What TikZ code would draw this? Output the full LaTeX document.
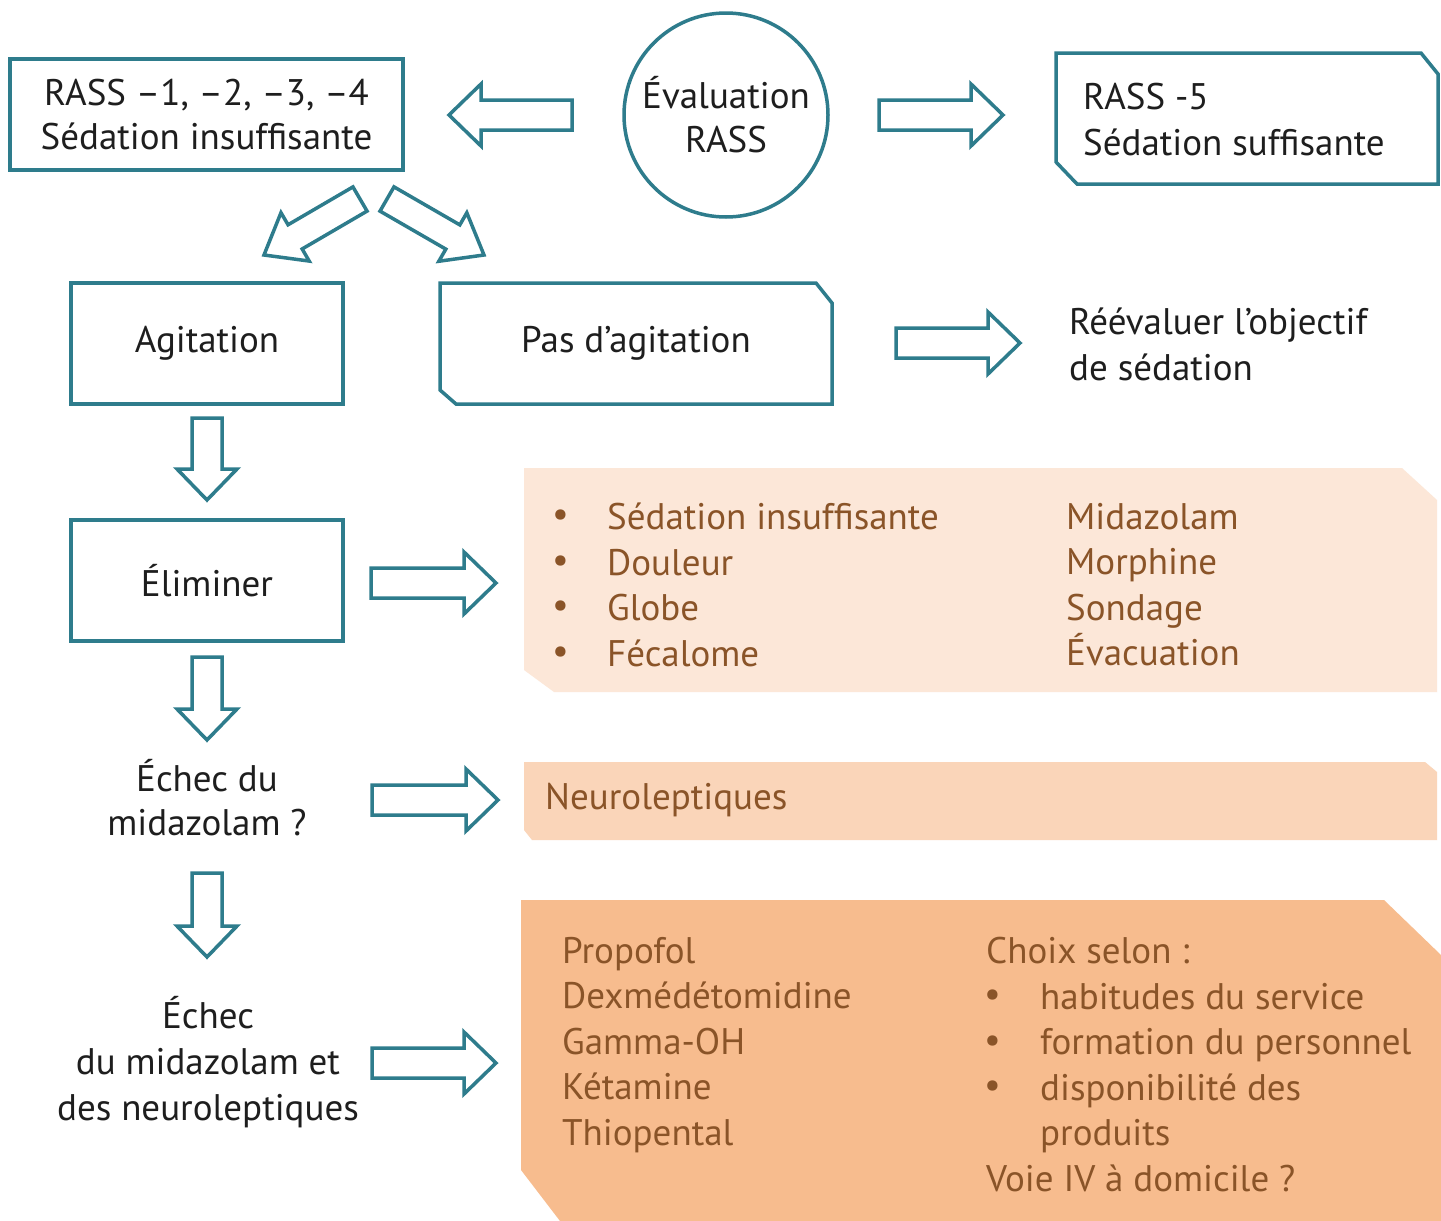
\documentclass[tikz,border=0pt]{standalone}
\usepackage{fontspec}
\setmainfont{PT Sans}
\usetikzlibrary{calc}
\definecolor{tealc}{RGB}{46,124,140}
\definecolor{peachA}{RGB}{252,231,216}
\definecolor{peachB}{RGB}{250,213,185}
\definecolor{peachC}{RGB}{247,188,142}
\definecolor{brownc}{RGB}{138,84,40}
\definecolor{inkc}{RGB}{30,30,30}
\newcommand\barrow[5]{%
  \coordinate (bt) at (#1);
  \coordinate (bh) at (#2);
  \coordinate (bb) at ($(bh)!#5!(bt)$);
  \draw[arrowline] ($(bt)!#3!90:(bh)$) -- ($(bb)!#3!90:(bh)$) -- ($(bb)!#4!90:(bh)$) -- (bh)
     -- ($(bb)!#4!-90:(bh)$) -- ($(bb)!#3!-90:(bh)$) -- ($(bt)!#3!-90:(bh)$) -- cycle;}
\begin{document}
\begin{tikzpicture}[x=1pt,y=-1pt,
  boxline/.style={draw=tealc, line width=3.5pt, line join=miter},
  box/.style={boxline, fill=white, inner sep=0},
  arrowline/.style={draw=tealc, fill=white, line width=3.5pt, line join=miter},
  txt/.style={font=\fontsize{37}{44}\selectfont, text=inkc, align=center, inner sep=0},
  ltxt/.style={font=\fontsize{37}{46}\selectfont, text=inkc, align=left, inner sep=0},
  btxt/.style={font=\fontsize{37}{45.5}\selectfont, text=brownc, align=left, inner sep=0, anchor=north west}
]
\useasboundingbox (0,0) rectangle (1441,1221);
\fill[white] (0,0) rectangle (1441,1221);

% top row
\node[box, minimum width=393pt, minimum height=111pt, txt] (rass1) at (206.5,114.5) {RASS –1, –2, –3, –4\\Sédation insuffisante};
\node[boxline, circle, minimum size=204pt, inner sep=0, txt] (eval) at (726,115) {Évaluation\\RASS};
\draw[boxline] (1056,53) -- (1421,53) -- (1438,74) -- (1438,184) -- (1077,184) -- (1056,162) -- cycle;
\node[ltxt, anchor=west] (rass5) at (1083,120) {RASS -5\\Sédation suffisante};

% second row
\node[box, minimum width=272pt, minimum height=121pt, txt] (agit) at (207,343.5) {Agitation};
\draw[boxline] (440,283) -- (816,283) -- (832,303) -- (832,404) -- (456,404) -- (440,390) -- cycle;
\node[txt] (pasag) at (636,343.5) {Pas d’agitation};
\node[ltxt, anchor=west] (reeval) at (1069,344) {Réévaluer l’objectif\\de sédation};

% third row
\node[box, minimum width=272pt, minimum height=121pt, txt] (elim) at (207,580.5) {Éliminer};
\fill[peachA] (524,468) -- (1402,468) -- (1437,500) -- (1437,692) -- (554,692) -- (524,670) -- cycle;
\node[btxt] (list1) at (552,510) {\textbullet\\\textbullet\\\textbullet\\\textbullet};
\node[btxt] (list1b) at (607,503) {Sédation insuffisante\\Douleur\\Globe\\Fécalome};
\node[btxt] (list1c) at (1066,503) {Midazolam\\Morphine\\Sondage\\Évacuation};

% fourth row
\node[txt] (echec1) at (207,798) {Échec du\\midazolam ?};
\fill[peachB] (524,762) -- (1425,762) -- (1437,772) -- (1437,840) -- (532,840) -- (524,830) -- cycle;
\node[btxt, anchor=west] (neuro) at (545,800) {Neuroleptiques};

% fifth row
\node[txt, font=\fontsize{37}{46}\selectfont] (echec2) at (208,1062) {Échec\\du midazolam et\\des neuroleptiques};
\fill[peachC] (521,900) -- (1384,900) -- (1441,955) -- (1441,1221) -- (560,1221) -- (521,1170) -- cycle;
\node[btxt] (list3) at (562,937) {Propofol\\Dexmédétomidine\\Gamma-OH\\Kétamine\\Thiopental};
\node[btxt] (list3b) at (986,937) {Choix selon :\\\phantom{x}\\\phantom{x}\\\phantom{x}\\\phantom{x}\\Voie IV à domicile ?};
\node[btxt] (list3c) at (984,990) {\textbullet\\\textbullet\\\textbullet};
\node[btxt] (list3d) at (1040,983) {habitudes du service\\formation du personnel\\disponibilité des\\produits};

% block arrows
\barrow{572,115}{449,115}{15pt}{31pt}{32pt}
\barrow{879,115}{1003,115}{15pt}{31pt}{32pt}
\barrow{360,199}{264,255}{14pt}{28pt}{36pt}
\barrow{387,199}{484,255}{14pt}{28pt}{36pt}
\barrow{896,343}{1020,343}{15pt}{31pt}{32pt}
\barrow{207,418}{207,500}{15pt}{30pt}{31pt}
\barrow{371,583}{496,583}{15pt}{31pt}{32pt}
\barrow{207,657}{207,740}{15pt}{30pt}{31pt}
\barrow{372,800}{498,800}{15pt}{31pt}{32pt}
\barrow{207,873}{207,957}{15pt}{30pt}{31pt}
\barrow{372,1063}{496,1063}{15pt}{31pt}{32pt}
\end{tikzpicture}
\end{document}
